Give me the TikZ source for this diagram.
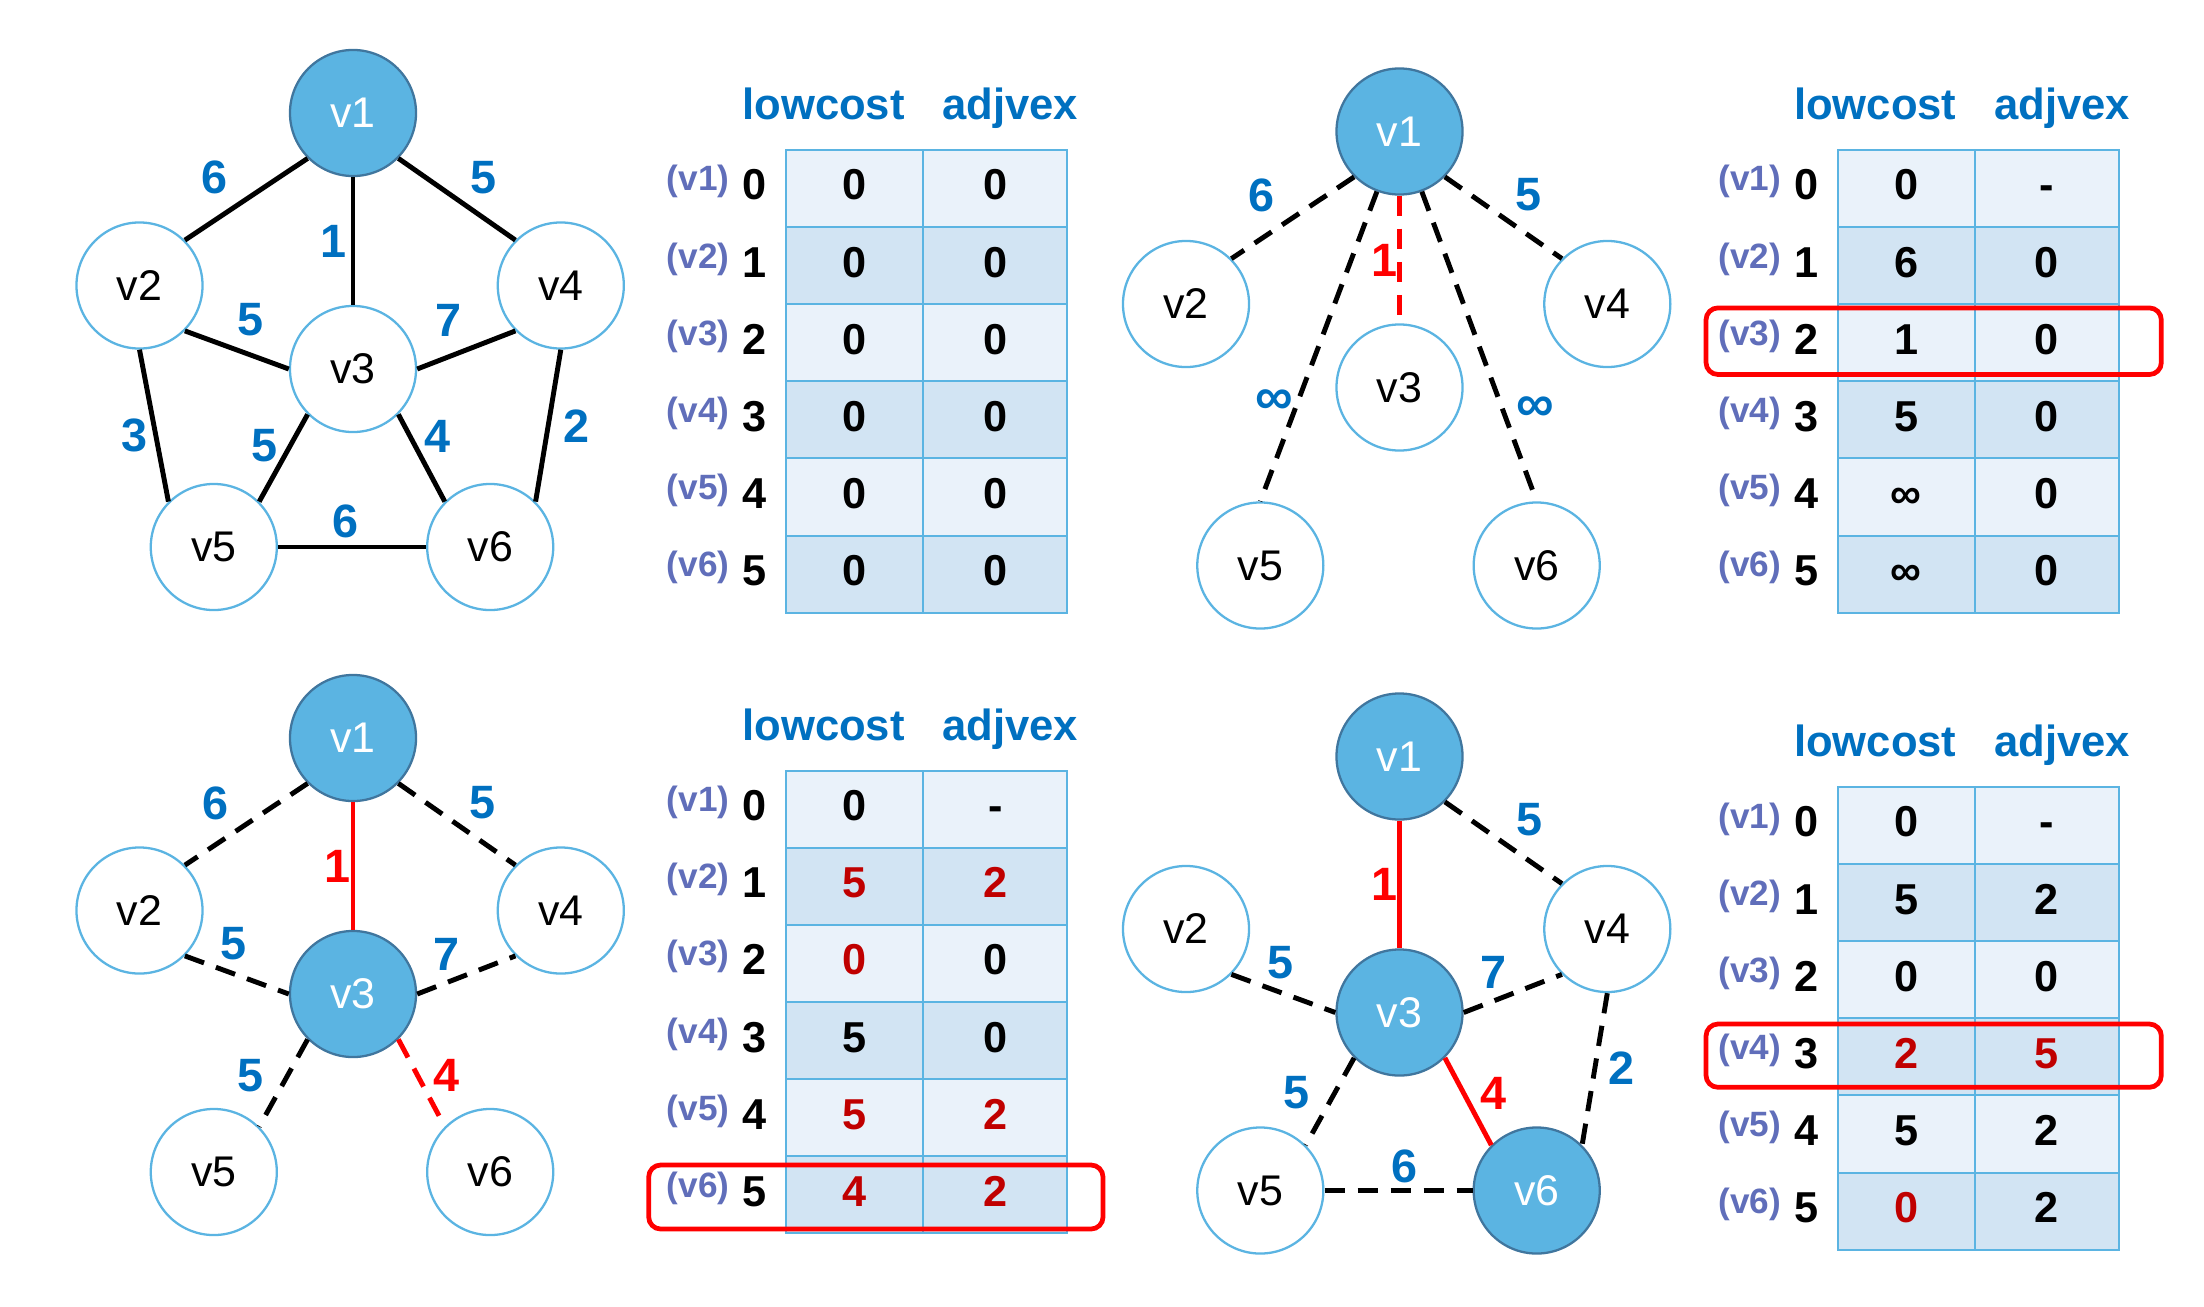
\documentclass[tikz,border=0pt]{standalone}
\usepackage{fontspec}
\setmainfont{Liberation Sans}
\definecolor{nfill}{RGB}{91,180,226}
\definecolor{nborder}{RGB}{64,118,158}
\definecolor{vline}{RGB}{91,180,226}
\definecolor{wblue}{RGB}{0,112,192}
\definecolor{rlab}{RGB}{96,110,186}
\definecolor{rowlight}{RGB}{234,242,250}
\definecolor{rowdark}{RGB}{210,228,243}
\definecolor{gridc}{RGB}{91,180,226}
\definecolor{dred}{RGB}{192,0,0}
\newcommand\nodefnt{\fontsize{12.2}{14}\selectfont}
\newcommand\wfnt{\fontsize{13.3}{15}\selectfont\bfseries}
\newcommand\inffnt{\fontsize{15}{17}\selectfont\bfseries}
\newcommand\hdrfnt{\fontsize{12.4}{14}\selectfont\bfseries}
\newcommand\valfnt{\fontsize{12.3}{14}\selectfont\bfseries}
\newcommand\labfnt{\fontsize{10}{12}\selectfont\bfseries}
\tikzset{
  vert/.style={circle, draw=vline, line width=0.65pt, fill=white, minimum size=1.26cm, inner sep=0pt, font=\nodefnt, text=black},
  vfill/.style={vert, draw=nborder, fill=nfill, text=white},
  edgesolid/.style={line width=1.4pt, black},
  edgedash/.style={edgesolid, dash pattern=on 5.8pt off 3.6pt},
  edgered/.style={edgesolid, red},
  edgereddash/.style={edgedash, red},
  wlab/.style={font=\wfnt, text=wblue, inner sep=0pt},
  wred/.style={font=\wfnt, text=red, inner sep=0pt},
  inflab/.style={font=\inffnt, text=wblue, inner sep=0pt},
  hdr/.style={font=\hdrfnt, text=wblue, inner sep=0pt},
  valtxt/.style={font=\valfnt, text=black, inner sep=0pt, anchor=base},
  rowlab/.style={font=\labfnt, text=rlab, inner sep=0pt},
  gridln/.style={draw=gridc, line width=0.6pt},
  redbox/.style={draw=red, line width=1.35pt, rounded corners=3.4pt},
}
\newcommand\drawtable[3]{%
  \foreach \i in {0,...,5}{%
    \ifodd\i\colorlet{rowc}{rowdark}\else\colorlet{rowc}{rowlight}\fi
    \fill[rowc] ({#2},{#3+\i*77.13}) rectangle ({#2+281.3},{#3+(\i+1)*77.13});
  }
  \foreach \i in {1,...,5}{\draw[gridln] ({#2},{#3+\i*77.13}) -- ({#2+281.3},{#3+\i*77.13});}
  \draw[gridln] ({#2+137},{#3}) -- ({#2+137},{#3+462.8});
  \draw[gridln] ({#2},{#3}) rectangle ({#2+281.3},{#3+462.8});
  \node[hdr, anchor=base] (#1h1) at ({#2+37.5},{#3-30.5}) {lowcost};
  \node[hdr, anchor=base] (#1h2) at ({#2+224.3},{#3-30.5}) {adjvex};
  \foreach \i in {0,...,5}{%
    \pgfmathtruncatemacro\n{\i+1}
    \node[rowlab] (#1r\i) at ({#2-88},{#3+\i*77.13+32}) {(v\n)};
    \node[valtxt] (#1i\i) at ({#2-31.7},{#3+\i*77.13+50}) {\i};
  }
}
\newcommand\tablevals[4]{%
  \foreach \i/\a/\b in {#4}{%
    \node[valtxt] (#1a\i) at ({#2+68.5},{#3+\i*77.13+50}) {\a};
    \node[valtxt] (#1b\i) at ({#2+209.2},{#3+\i*77.13+50}) {\b};
  }
}
\begin{document}
\begin{tikzpicture}[x=0.01cm,y=-0.01cm]
\useasboundingbox (0,0) rectangle (2204,1306);

% ---------- Panel 1 ----------
\node[vfill] (a1) at (353,113) {v1};
\node[vert] (a2) at (139.5,285.5) {v2};
\node[vert] (a3) at (353,369) {v3};
\node[vert] (a4) at (560.8,285.5) {v4};
\node[vert] (a5) at (213.8,547) {v5};
\node[vert] (a6) at (490.2,547) {v6};
\draw[edgesolid] (a1.225) -- (a2.45);
\draw[edgesolid] (a1.south) -- (a3.north);
\draw[edgesolid] (a1.315) -- (a4.135);
\draw[edgesolid] (a2.315) -- (a3.west);
\draw[edgesolid] (a3.east) -- (a4.225);
\draw[edgesolid] (a2.south) -- (a5.135);
\draw[edgesolid] (a3.225) -- (a5.45);
\draw[edgesolid] (a3.315) -- (a6.135);
\draw[edgesolid] (a4.south) -- (a6.45);
\draw[edgesolid] (a5.east) -- (a6.west);
\node[wlab] (al1) at (215,177.5) {6};
\node[wlab] (al2) at (483,177.5) {5};
\node[wlab] (al3) at (333.6,241.6) {1};
\node[wlab] (al4) at (250.2,319.7) {5};
\node[wlab] (al5) at (448.4,320.9) {7};
\node[wlab] (al6) at (134.6,435.7) {3};
\node[wlab] (al7) at (264,445.2) {5};
\node[wlab] (al8) at (437,436.4) {4};
\node[wlab] (al9) at (576.6,426.1) {2};
\node[wlab] (al10) at (345.1,521.8) {6};

% ---------- Panel 2 ----------
\begin{scope}[shift={(1046.5,18.5)}]
\node[vfill] (b1) at (353,113) {v1};
\node[vert] (b2) at (139.5,285.5) {v2};
\node[vert] (b3) at (353,369) {v3};
\node[vert] (b4) at (560.8,285.5) {v4};
\node[vert] (b5) at (213.8,547) {v5};
\node[vert] (b6) at (490.2,547) {v6};
\draw[edgedash] (b1.225) -- (b2.45);
\draw[edgedash] (b1.315) -- (b4.135);
\draw[edgereddash] (b1.south) -- (b3.north);
\draw[edgedash] (b1) -- (b5.north);
\draw[edgedash] (b1) -- (b6.north);
\node[wlab] (bl1) at (214.9,176.5) {6};
\node[wlab] (bl2) at (482.1,176.5) {5};
\node[wred] (bl3) at (337.5,241.5) {1};
\node[inflab] (bl4) at (227.5,383.1) {∞};
\node[inflab] (bl5) at (489.2,390.8) {∞};
\end{scope}

% ---------- Panel 3 ----------
\begin{scope}[shift={(0,625)}]
\node[vfill] (c1) at (353,113) {v1};
\node[vert] (c2) at (139.5,285.5) {v2};
\node[vfill] (c3) at (353,369) {v3};
\node[vert] (c4) at (560.8,285.5) {v4};
\node[vert] (c5) at (213.8,547) {v5};
\node[vert] (c6) at (490.2,547) {v6};
\draw[edgedash] (c1.225) -- (c2.45);
\draw[edgered] (c1.south) -- (c3.north);
\draw[edgedash] (c1.315) -- (c4.135);
\draw[edgedash] (c2.315) -- (c3.west);
\draw[edgedash] (c3.east) -- (c4.225);
\draw[edgedash] (c3.225) -- (c5.45);
\draw[edgereddash] (c3.315) -- (c6.135);
\node[wlab] (cl1) at (215.4,178.5) {6};
\node[wlab] (cl2) at (482.5,177.4) {5};
\node[wred] (cl3) at (337.9,241.7) {1};
\node[wlab] (cl4) at (234,319) {5};
\node[wlab] (cl5) at (446.4,329.7) {7};
\node[wlab] (cl6) at (251,450.2) {5};
\node[wred] (cl7) at (446.4,450.2) {4};
\end{scope}

% ---------- Panel 4 ----------
\begin{scope}[shift={(1046.5,643.5)}]
\node[vfill] (d1) at (353,113) {v1};
\node[vert] (d2) at (139.5,285.5) {v2};
\node[vfill] (d3) at (353,369) {v3};
\node[vert] (d4) at (560.8,285.5) {v4};
\node[vert] (d5) at (213.8,547) {v5};
\node[vfill] (d6) at (490.2,547) {v6};
\draw[edgered] (d1.south) -- (d3.north);
\draw[edgedash] (d1.315) -- (d4.135);
\draw[edgedash] (d2.315) -- (d3.west);
\draw[edgedash] (d3.east) -- (d4.225);
\draw[edgedash] (d3.225) -- (d5.45);
\draw[edgered] (d3.315) -- (d6.135);
\draw[edgedash] (d4.south) -- (d6.45);
\draw[edgedash] (d5.east) -- (d6.west);
\node[wlab] (dl1) at (482.5,176.2) {5};
\node[wred] (dl2) at (337.5,241.2) {1};
\node[wlab] (dl3) at (233.5,319.5) {5};
\node[wlab] (dl4) at (446.5,329.3) {7};
\node[wlab] (dl5) at (250.3,449.5) {5};
\node[wred] (dl6) at (446.5,449.5) {4};
\node[wlab] (dl7) at (575.3,424.9) {2};
\node[wlab] (dl8) at (357.5,522.5) {6};
\end{scope}

% ---------- Tables ----------
\drawtable{ta}{786}{149.9}
\tablevals{ta}{786}{149.9}{0/0/0,1/0/0,2/0/0,3/0/0,4/0/0,5/0/0}

\drawtable{tb}{1837.7}{149.9}
\tablevals{tb}{1837.7}{149.9}{0/0/-,1/6/0,2/1/0,3/5/0,4/∞/0,5/∞/0}
\draw[redbox] (1706,307.9) rectangle (2161.3,374.5);

\drawtable{tc}{786}{770.6}
\tablevals{tc}{786}{770.6}{0/0/-,1/{\textcolor{dred}{5}}/{\textcolor{dred}{2}},2/{\textcolor{dred}{0}}/0,3/5/0,4/{\textcolor{dred}{5}}/{\textcolor{dred}{2}},5/{\textcolor{dred}{4}}/{\textcolor{dred}{2}}}
\draw[redbox] (648.7,1165) rectangle (1103,1229);

\drawtable{td}{1837.7}{786.9}
\tablevals{td}{1837.7}{786.9}{0/0/-,1/5/2,2/0/0,3/{\textcolor{dred}{2}}/{\textcolor{dred}{5}},4/5/2,5/{\textcolor{dred}{0}}/2}
\draw[redbox] (1706,1024) rectangle (2161.3,1087.3);
\end{tikzpicture}
\end{document}
